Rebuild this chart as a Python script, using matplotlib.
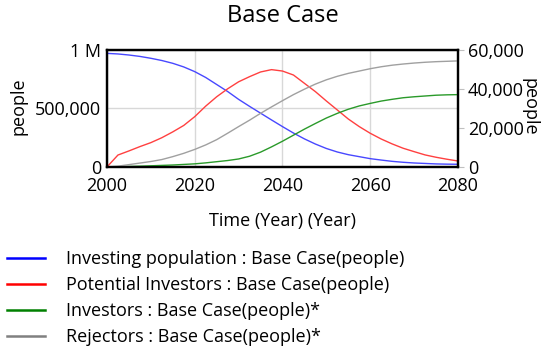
import numpy as np
import matplotlib
matplotlib.use("Agg")
import matplotlib.pyplot as plt
from matplotlib.lines import Line2D
from matplotlib.ticker import FuncFormatter

plt.rcParams['font.family'] = ['Open Sans', 'DejaVu Sans']

years = np.arange(2000, 2080.1, 2.5)
# left axis (people)
investing_pop = [971, 966, 957, 945, 929, 910, 886, 855, 815, 765, 705, 645, 578, 518, 460, 402,
                 345, 290, 240, 196, 158, 128, 105, 88, 71, 59, 48, 40, 34, 30, 26, 24, 23]
potential = [0, 102, 137, 174, 208, 250, 300, 355, 430, 520, 600, 668, 728, 772, 812, 832,
             820, 786, 715, 644, 564, 487, 410, 345, 288, 239, 197, 160, 131, 103, 83, 66, 51]
# right axis (people)*
investors = [0, 0.1, 0.25, 0.4, 0.6, 0.8, 1.0, 1.3, 1.6, 2.1, 2.7, 3.3, 4.1, 5.5, 7.6, 10.3,
             13.2, 16.3, 19.4, 22.3, 25.1, 27.5, 29.6, 31.3, 32.6, 33.8, 34.7, 35.5, 36.0, 36.4,
             36.8, 37.0, 37.1]
rejectors = [0, 0.4, 1.2, 2.0, 2.8, 3.8, 5.3, 7.0, 9.0, 11.3, 14.0, 17.3, 20.7, 24.0, 27.5, 30.8,
             34.0, 37.1, 39.9, 42.5, 44.7, 46.5, 48.0, 49.2, 50.4, 51.4, 52.2, 52.8, 53.3, 53.7,
             54.0, 54.2, 54.4]

labels = ["Investing population : Base Case(people)",
          "Potential Investors : Base Case(people)",
          "Investors : Base Case(people)*",
          "Rejectors : Base Case(people)*"]
colors = ["#0000ff", "#ff0000", "#008000", "#808080"]
line_colors = ["#4848ff", "#ff4040", "#2a9a2a", "#a0a0a0"]

fig = plt.figure(figsize=(5.5, 3.56), dpi=100)
ax = fig.add_axes([0.1945, 0.531, 0.6382, 0.3286])
ax2 = ax.twinx()

ax.plot(years, np.array(investing_pop) * 1000, color=line_colors[0], lw=1)
ax.plot(years, np.array(potential) * 1000, color=line_colors[1], lw=1)
ax2.plot(years, np.array(investors) * 1000, color=line_colors[2], lw=1)
ax2.plot(years, np.array(rejectors) * 1000, color=line_colors[3], lw=1)

ax.set_xlim(2000, 2080)
ax.set_ylim(0, 1e6)
ax2.set_ylim(0, 60000)
ax.set_xticks([2000, 2020, 2040, 2060, 2080])
ax.set_yticks([0, 500000, 1000000])
ax.yaxis.set_major_formatter(FuncFormatter(lambda v, p: "1 M" if v == 1e6 else f"{int(v):,}"))
ax2.set_yticks([0, 20000, 40000, 60000])
ax2.yaxis.set_major_formatter(FuncFormatter(lambda v, p: f"{int(v):,}"))
ax.grid(True, color="#d8d8d8", lw=1)
ax.set_axisbelow(True)
ax.tick_params(axis='y', length=0, labelsize=13, pad=4)
ax.tick_params(axis='x', length=0, labelsize=13, pad=7)
ax2.tick_params(axis='y', length=4, color="#c0c0c0", labelsize=13, pad=3)
for a in (ax, ax2):
    for s in a.spines.values():
        s.set_linewidth(1.6)
        s.set_color("black")

ax.set_xlabel("Time (Year) (Year)", fontsize=13)
ax.xaxis.set_label_coords(0.5, -0.383)
ax.set_ylabel("people", fontsize=13)
ax.yaxis.set_label_coords(-0.225, 0.517)
ax2.set_ylabel("people", fontsize=13, rotation=270, va="center")
ax2.yaxis.set_label_coords(1.205, 0.517)
ax.set_title("Base Case", fontsize=17, pad=20)

handles = [Line2D([], [], color=c, lw=1.8) for c in colors]
fig.legend(handles, labels, loc="upper left", bbox_to_anchor=(0.0127, 0.298),
           frameon=False, fontsize=13, handlelength=2.1, handletextpad=1.17,
           labelspacing=0.45, borderaxespad=0, borderpad=0)

fig.savefig("out.png", dpi=100)
